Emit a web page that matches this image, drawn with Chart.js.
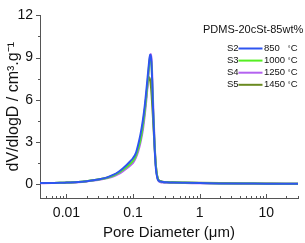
<!DOCTYPE html>
<html>
<head>
<meta charset="utf-8">
<script src="https://cdn.jsdelivr.net/npm/chart.js@4.4.0/dist/chart.umd.min.js"></script>
<style>
  html, body { margin: 0; padding: 0; background: #fff; }
</style>
</head>
<body>
<canvas id="pore_chart" width="305" height="243"></canvas>
<script>
// pore diameters (um) and dV/dlogD for each sample
let diameters = [0.004, 0.006, 0.008, 0.01, 0.015, 0.02, 0.03, 0.04, 0.05, 0.06,
                 0.07, 0.08, 0.09, 0.1, 0.11, 0.12, 0.13, 0.14, 0.15, 0.16,
                 0.17, 0.175, 0.18, 0.185, 0.19, 0.2, 0.21, 0.22, 0.23, 0.24,
                 0.26, 0.28, 0.32, 0.4, 0.6, 1, 2, 5, 10, 20, 30];
let s2Values = [0.06, 0.07, 0.08, 0.1, 0.14, 0.2, 0.32, 0.45, 0.64, 0.85,
                1.1, 1.35, 1.6, 1.85, 2.2, 2.85, 3.6, 4.5, 5.6, 6.9,
                8.2, 8.8, 9.2, 9.1, 8.4, 5.2, 2.7, 1.1, 0.5, 0.25,
                0.17, 0.14, 0.12, 0.1, 0.08, 0.06, 0.04, 0.03, 0.02, 0.02, 0.02];
let s3Values = [0.06, 0.07, 0.08, 0.1, 0.14, 0.2, 0.31, 0.43, 0.58, 0.78,
                1.0, 1.2, 1.42, 1.65, 2.0, 2.55, 3.2, 4.1, 5.2, 6.5,
                7.9, 8.6, 9.0, 9.0, 8.3, 5.3, 2.9, 1.3, 0.55, 0.28,
                0.18, 0.14, 0.12, 0.1, 0.08, 0.06, 0.04, 0.03, 0.02, 0.02, 0.02];
let s4Values = [0.05, 0.06, 0.07, 0.09, 0.13, 0.18, 0.28, 0.4, 0.52, 0.7,
                0.9, 1.1, 1.3, 1.5, 1.85, 2.35, 3.0, 3.8, 4.9, 6.2,
                7.7, 8.5, 9.1, 9.25, 8.8, 5.8, 3.1, 1.3, 0.5, 0.22,
                0.12, 0.1, 0.08, 0.07, 0.06, 0.05, 0.03, 0.02, 0.02, 0.01, 0.01];
let s5Values = [0.06, 0.07, 0.08, 0.1, 0.14, 0.2, 0.32, 0.44, 0.6, 0.8,
                1.0, 1.2, 1.4, 1.6, 2.0, 2.55, 3.25, 4.2, 5.3, 6.5,
                7.5, 7.6, 7.4, 7.0, 6.3, 4.5, 2.7, 1.3, 0.6, 0.3,
                0.2, 0.16, 0.14, 0.12, 0.1, 0.08, 0.06, 0.04, 0.03, 0.02, 0.02];

let sampleNames = ["S2", "S3", "S4", "S5"];
let temperatures = ["850", "1000", "1250", "1450"];
let lineColors = ["#2f55f0", "#55ee22", "#b462f0", "#6a8a20"];
let chartTitle = "PDMS-20cSt-85wt%";

let xTickValues = [0.01, 0.1, 1, 10];
let yTickValues = [0, 3, 6, 9, 12];
let yMinorValues = [1.5, 4.5, 7.5, 10.5];

let fontFamily = "'Liberation Sans', Arial, sans-serif";

function makePoints(values) {
    let pts = [];
    for (let i = 0; i < diameters.length; i++) {
        pts.push({x: diameters[i], y: values[i]});
    }
    return pts;
}

let allValues = [s2Values, s3Values, s4Values, s5Values];
let datasets = [];
for (let i = 0; i < sampleNames.length; i++) {
    datasets.push({
        label: sampleNames[i] + " " + temperatures[i] + " °C",
        data: makePoints(allValues[i]),
        borderColor: lineColors[i],
        borderWidth: 2,
        pointRadius: 0,
        fill: false,
        cubicInterpolationMode: "monotone"
    });
}

// axis ticks: y outward, x inward with log minors
const tickPlugin = {
    id: "tickPlugin",
    afterDraw(chart) {
        let ctx = chart.ctx;
        let xs = chart.scales.x;
        let ys = chart.scales.y;
        let area = chart.chartArea;
        ctx.save();
        ctx.strokeStyle = "#555";
        ctx.lineWidth = 1;
        ctx.beginPath();
        yTickValues.forEach(function (v) {
            let py = Math.round(ys.getPixelForValue(v)) + 0.5;
            ctx.moveTo(area.left - 4, py);
            ctx.lineTo(area.left, py);
        });
        yMinorValues.forEach(function (v) {
            let py = Math.round(ys.getPixelForValue(v)) + 0.5;
            ctx.moveTo(area.left - 2, py);
            ctx.lineTo(area.left, py);
        });
        for (let e = -3; e <= 1; e++) {
            for (let m = 1; m <= 9; m++) {
                let v = m * Math.pow(10, e);
                if (v < 0.004 || v > 30) continue;
                let px = Math.round(xs.getPixelForValue(v)) + 0.5;
                let len = (m === 1) ? 4 : 2;
                ctx.moveTo(px, area.bottom);
                ctx.lineTo(px, area.bottom - len);
            }
        }
        ctx.stroke();
        ctx.restore();
    }
};

// legend: title then "S2 ---- 850 °C" rows
const legendPlugin = {
    id: "legendPlugin",
    afterDraw(chart) {
        let ctx = chart.ctx;
        ctx.save();
        ctx.fillStyle = "#111";
        ctx.font = "11px " + fontFamily;
        ctx.textBaseline = "middle";
        ctx.textAlign = "left";
        ctx.fillText(chartTitle, 203, 29.5);

        for (let i = 0; i < sampleNames.length; i++) {
            let y = 48.5 + i * 12.1;
            ctx.font = "9.5px " + fontFamily;
            ctx.textAlign = "right";
            ctx.fillStyle = "#111";
            ctx.fillText(sampleNames[i], 238.5, y);
            ctx.strokeStyle = lineColors[i];
            ctx.lineWidth = 2;
            ctx.beginPath();
            ctx.moveTo(238.5, y);
            ctx.lineTo(262.5, y);
            ctx.stroke();
            ctx.textAlign = "left";
            ctx.fillText(temperatures[i], 264, y);
            ctx.textAlign = "right";
            ctx.fillText("C", 297.5, y);
            ctx.font = "7px " + fontFamily;
            ctx.fillText("°", 290.5, y + 0.5);
        }
        ctx.restore();
    }
};

new Chart("pore_chart", {
    type: "line",
    data: { datasets: datasets },
    plugins: [tickPlugin, legendPlugin],
    options: {
        responsive: false,
        animation: false,
        layout: { padding: { top: 8, right: 7, left: 0, bottom: 0 } },
        plugins: {
            legend: { display: false },
            tooltip: { enabled: false },
            title: { display: false }
        },
        scales: {
            x: {
                type: "logarithmic",
                min: 0.004,
                max: 30,
                afterBuildTicks: function (scale) {
                    scale.ticks = xTickValues.map(function (v) { return {value: v}; });
                },
                afterFit: function (scale) { scale.height = 45; },
                grid: { display: false, drawTicks: false },
                border: { display: true, color: "#555", width: 1 },
                ticks: {
                    color: "#111",
                    padding: 7,
                    maxRotation: 0,
                    autoSkip: false,
                    font: { family: fontFamily, size: 14 },
                    callback: function (v) { return String(v); }
                },
                title: {
                    display: true,
                    text: "Pore Diameter (μm)",
                    color: "#111",
                    font: { family: fontFamily, size: 15 },
                    padding: { top: 0, bottom: 1 }
                }
            },
            y: {
                min: -1,
                max: 12,
                afterBuildTicks: function (scale) {
                    scale.ticks = yTickValues.map(function (v) { return {value: v}; });
                },
                afterFit: function (scale) { scale.width = 40; },
                grid: { display: false, drawTicks: false },
                border: { display: true, color: "#555", width: 1 },
                ticks: {
                    color: "#111",
                    padding: 7,
                    font: { family: fontFamily, size: 14 }
                },
                title: {
                    display: true,
                    text: "dV/dlogD / cm³.g⁻¹",
                    color: "#111",
                    font: { family: fontFamily, size: 16 },
                    padding: { top: 4, bottom: 0 }
                }
            }
        }
    }
});
</script>
</body>
</html>
